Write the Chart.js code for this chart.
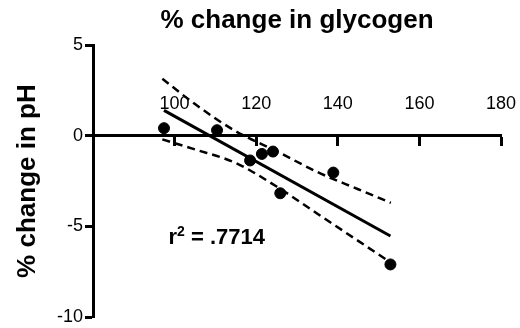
<!DOCTYPE html>
<html>
<head>
<meta charset="utf-8">
<script src="https://cdn.jsdelivr.net/npm/chart.js@4.4.0/dist/chart.umd.min.js"></script>
<style>
  body { margin: 0; background: #fff; }
  #wrap { width: 520px; height: 328px; }
</style>
</head>
<body>
<div id="wrap"><canvas id="glycogenChart" width="520" height="328"></canvas></div>
<script>
// measured points (% change in glycogen vs % change in pH)
var glycogen = [97.4, 110.4, 118.5, 121.4, 124.1, 125.9, 138.9, 152.9];
var phChange = [0.42, 0.31, -1.36, -1.0, -0.87, -3.17, -2.03, -7.1];

// fitted line end points
var fitX = [97.4, 152.9];
var fitY = [1.40, -5.53];

// 95% confidence band, read at a few x values
var bandX = [97, 105, 115, 125, 135, 145, 153];
var bandUpper = [3.15, 1.75, 0.25, -0.85, -2.0, -2.95, -3.7];
var bandLower = [-0.2, -0.75, -1.5, -2.8, -4.3, -5.8, -7.0];

var xTicks = [100, 120, 140, 160, 180];
var yTicks = [5, 0, -5, -10];
var rSquared = '.7714';

var FONT = 'Liberation Sans, Arial, sans-serif';

function toPoints(xs, ys) {
  var out = [];
  for (var i = 0; i < xs.length; i += 1) {
    out.push({ x: xs[i], y: ys[i] });
  }
  return out;
}

// r squared label
var rSquaredLabel = {
  id: 'rSquaredLabel',
  afterDatasetsDraw: function(chart) {
    var ctx = chart.ctx;
    var px = chart.scales.x.getPixelForValue(98.5);
    var py = chart.scales.y.getPixelForValue(-5.98);
    ctx.save();
    ctx.fillStyle = '#000';
    ctx.textBaseline = 'alphabetic';
    ctx.textAlign = 'left';
    ctx.font = 'bold 22px ' + FONT;
    ctx.fillText('r', px, py);
    var w = ctx.measureText('r').width;
    ctx.font = 'bold 14px ' + FONT;
    ctx.fillText('2', px + w, py - 8);
    var w2 = ctx.measureText('2').width;
    ctx.font = 'bold 22px ' + FONT;
    ctx.fillText(' = ' + rSquared, px + w + w2, py);
    ctx.restore();
  }
};

var ctx = document.getElementById('glycogenChart').getContext('2d');
var chart = new Chart(ctx, {
  type: 'scatter',
  data: {
    datasets: [{
      label: 'data',
      data: toPoints(glycogen, phChange),
      backgroundColor: '#000',
      borderColor: '#000',
      pointRadius: 5.5,
      pointHoverRadius: 5.5
    }, {
      label: 'fit',
      data: toPoints(fitX, fitY),
      showLine: true,
      borderColor: '#000',
      borderWidth: 3,
      pointRadius: 0
    }, {
      label: 'upper',
      data: toPoints(bandX, bandUpper),
      showLine: true,
      borderColor: '#000',
      borderWidth: 2.5,
      borderDash: [8, 5],
      cubicInterpolationMode: 'monotone',
      pointRadius: 0
    }, {
      label: 'lower',
      data: toPoints(bandX, bandLower),
      showLine: true,
      borderColor: '#000',
      borderWidth: 2.5,
      borderDash: [8, 5],
      cubicInterpolationMode: 'monotone',
      pointRadius: 0
    }]
  },
  options: {
    responsive: false,
    animation: false,
    devicePixelRatio: 1,
    layout: { padding: { left: 0, right: 19, top: 0, bottom: 0 } },
    plugins: {
      legend: { display: false },
      tooltip: { enabled: false },
      title: {
        display: true,
        fullSize: false,
        text: '% change in glycogen',
        color: '#000',
        font: { family: FONT, size: 26, weight: 'bold' },
        padding: { top: 5, bottom: 9 }
      }
    },
    scales: {
      x: {
        type: 'linear',
        min: 80,
        max: 180,
        position: { y: 0 },
        afterBuildTicks: function(scale) {
          scale.ticks = xTicks.map(function(v) { return { value: v }; });
        },
        border: { display: true, color: '#000', width: 3 },
        grid: {
          drawOnChartArea: false,
          drawTicks: true,
          tickLength: 9,
          tickWidth: 3,
          tickColor: '#000'
        },
        ticks: {
          color: '#000',
          font: { family: FONT, size: 18 },
          padding: -52,
          maxRotation: 0
        }
      },
      y: {
        type: 'linear',
        min: -10,
        max: 5,
        position: 'left',
        afterBuildTicks: function(scale) {
          scale.ticks = yTicks.map(function(v) { return { value: v }; });
        },
        afterFit: function(scale) {
          scale.width = 93;
        },
        border: { display: true, color: '#000', width: 3 },
        grid: {
          drawOnChartArea: false,
          drawTicks: true,
          tickLength: 8,
          tickWidth: 3,
          tickColor: '#000'
        },
        ticks: {
          color: '#000',
          font: { family: FONT, size: 18, lineHeight: 1 },
          padding: 2
        },
        title: {
          display: true,
          text: '% change in pH',
          color: '#000',
          font: { family: FONT, size: 26, weight: 'bold' },
          padding: { top: 12, bottom: 0 }
        }
      }
    }
  },
  plugins: [rSquaredLabel]
});
</script>
</body>
</html>
